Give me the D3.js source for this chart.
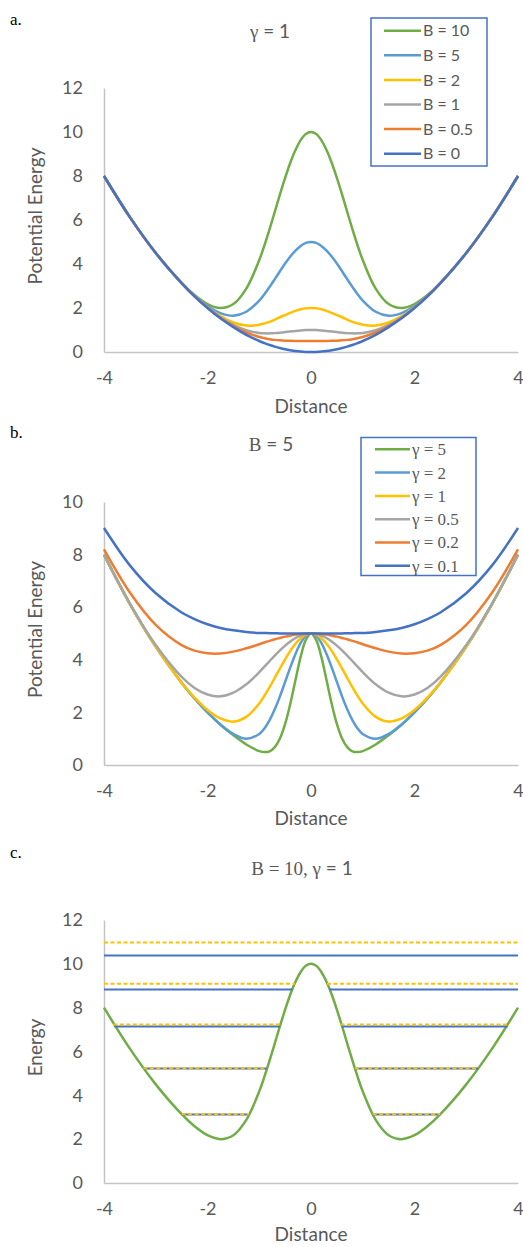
<!DOCTYPE html>
<html>
<head>
<meta charset="utf-8">
<script src="https://cdn.jsdelivr.net/npm/d3@7"></script>
<style>
  body { margin: 0; background: #fff; }
  svg { display: block; }
</style>
</head>
<body>
<svg id="chart" width="523" height="1247"></svg>
<script>
// x positions (distance) shared by every curve
var distance = [-4, -3.5, -3, -2.5, -2.25, -2, -1.75, -1.5, -1.25, -1, -0.9, -0.8, -0.7, -0.6, -0.5, -0.4, -0.3, -0.2, -0.1, 0,
  0.1, 0.2, 0.3, 0.4, 0.5, 0.6, 0.7, 0.8, 0.9, 1, 1.25, 1.5, 1.75, 2, 2.25, 2.5, 3, 3.5, 4];

// panel a: gamma = 1
var seriesA = ["B = 10", "B = 5", "B = 2", "B = 1", "B = 0.5", "B = 0"];
var b10 = [8.00, 6.13, 4.50, 3.14, 2.59, 2.18, 2.00, 2.18, 2.88, 4.18, 4.85, 5.59, 6.37, 7.16, 7.91, 8.60, 9.18, 9.63, 9.91, 10,
  9.91, 9.63, 9.18, 8.60, 7.91, 7.16, 6.37, 5.59, 4.85, 4.18, 2.88, 2.18, 2.00, 2.18, 2.59, 3.14, 4.50, 6.13, 8.00];
var b5 = [8.00, 6.13, 4.50, 3.13, 2.56, 2.09, 1.77, 1.65, 1.83, 2.34, 2.63, 2.96, 3.31, 3.67, 4.02, 4.34, 4.61, 4.82, 4.96, 5,
  4.96, 4.82, 4.61, 4.34, 4.02, 3.67, 3.31, 2.96, 2.63, 2.34, 1.83, 1.65, 1.77, 2.09, 2.56, 3.13, 4.50, 6.13, 8.00];
var b2 = [8.00, 6.13, 4.50, 3.13, 2.54, 2.04, 1.63, 1.34, 1.20, 1.24, 1.30, 1.37, 1.47, 1.58, 1.68, 1.78, 1.87, 1.94, 1.99, 2,
  1.99, 1.94, 1.87, 1.78, 1.68, 1.58, 1.47, 1.37, 1.30, 1.24, 1.20, 1.34, 1.63, 2.04, 2.54, 3.13, 4.50, 6.13, 8.00];
var b1 = [8.00, 6.13, 4.50, 3.13, 2.54, 2.02, 1.58, 1.23, 0.991, 0.868, 0.850, 0.847, 0.858, 0.878, 0.904, 0.932, 0.959, 0.981, 0.995, 1,
  0.995, 0.981, 0.959, 0.932, 0.904, 0.878, 0.858, 0.847, 0.850, 0.868, 0.991, 1.23, 1.58, 2.02, 2.54, 3.13, 4.50, 6.13, 8.00];
var b05 = [8.00, 6.13, 4.50, 3.13, 2.53, 2.01, 1.55, 1.18, 0.886, 0.684, 0.627, 0.584, 0.551, 0.529, 0.514, 0.506, 0.502, 0.500, 0.500, 0.5,
  0.500, 0.500, 0.502, 0.506, 0.514, 0.529, 0.551, 0.584, 0.627, 0.684, 0.886, 1.18, 1.55, 2.01, 2.53, 3.13, 4.50, 6.13, 8.00];
var b0 = [8.00, 6.13, 4.50, 3.13, 2.53, 2.00, 1.53, 1.13, 0.78, 0.5, 0.405, 0.32, 0.245, 0.18, 0.125, 0.08, 0.045, 0.02, 0.005, 0,
  0.005, 0.02, 0.045, 0.08, 0.125, 0.18, 0.245, 0.32, 0.405, 0.5, 0.78, 1.13, 1.53, 2.00, 2.53, 3.13, 4.50, 6.13, 8.00];

// panel b: B = 5
var seriesB = ["\u03b3 = 5", "\u03b3 = 2", "\u03b3 = 1", "\u03b3 = 0.5", "\u03b3 = 0.2", "\u03b3 = 0.1"];
var g5 = [8.00, 6.13, 4.50, 3.13, 2.53, 2.00, 1.53, 1.13, 0.78, 0.53, 0.49, 0.52, 0.68, 1.01, 1.56, 2.33, 3.23, 4.11, 4.76, 5,
  4.76, 4.11, 3.23, 2.33, 1.56, 1.01, 0.68, 0.52, 0.49, 0.53, 0.78, 1.13, 1.53, 2.00, 2.53, 3.13, 4.50, 6.13, 8.00];
var g2 = [8.00, 6.13, 4.50, 3.13, 2.53, 2.00, 1.54, 1.18, 1.00, 1.18, 1.39, 1.71, 2.12, 2.61, 3.16, 3.71, 4.22, 4.64, 4.91, 5,
  4.91, 4.64, 4.22, 3.71, 3.16, 2.61, 2.12, 1.71, 1.39, 1.18, 1.00, 1.18, 1.54, 2.00, 2.53, 3.13, 4.50, 6.13, 8.00];
var g1 = [8.00, 6.13, 4.50, 3.13, 2.56, 2.09, 1.77, 1.65, 1.83, 2.34, 2.63, 2.96, 3.31, 3.67, 4.02, 4.34, 4.61, 4.82, 4.96, 5,
  4.96, 4.82, 4.61, 4.34, 4.02, 3.67, 3.31, 2.96, 2.63, 2.34, 1.83, 1.65, 1.77, 2.09, 2.56, 3.13, 4.50, 6.13, 8.00];
var g05 = [8.00, 6.14, 4.56, 3.35, 2.93, 2.68, 2.61, 2.75, 3.07, 3.53, 3.74, 3.95, 4.16, 4.36, 4.54, 4.70, 4.83, 4.92, 4.98, 5,
  4.98, 4.92, 4.83, 4.70, 4.54, 4.36, 4.16, 3.95, 3.74, 3.53, 3.07, 2.75, 2.61, 2.68, 2.93, 3.35, 4.56, 6.14, 8.00];
var g02 = [8.20, 6.56, 5.33, 4.56, 4.35, 4.25, 4.24, 4.31, 4.44, 4.59, 4.66, 4.72, 4.78, 4.83, 4.88, 4.92, 4.96, 4.98, 5.00, 5,
  5.00, 4.98, 4.96, 4.92, 4.88, 4.83, 4.78, 4.72, 4.66, 4.59, 4.44, 4.31, 4.24, 4.25, 4.35, 4.56, 5.33, 6.56, 8.20];
var g01 = [9.01, 7.59, 6.53, 5.80, 5.55, 5.35, 5.21, 5.12, 5.06, 5.02, 5.02, 5.01, 5.01, 5.00, 5.00, 5.00, 5.00, 5.00, 5.00, 5,
  5.00, 5.00, 5.00, 5.00, 5.00, 5.00, 5.01, 5.01, 5.02, 5.02, 5.06, 5.12, 5.21, 5.35, 5.55, 5.80, 6.53, 7.59, 9.01];

// panel c: B = 10, gamma = 1, with energy levels
var potentialC = b10;
var levelBlue = [3.13, 5.23, 7.14, 8.83, 10.38];
var levelBlueSpans = [[[-2.50, -1.19], [1.19, 2.50]], [[-3.23, -0.85], [0.85, 3.23]], [[-3.80, -0.60], [0.60, 3.80]],
  [[-4, -0.36], [0.36, 4]], [[-4, 4]]];
var levelGold = [3.14, 5.24, 7.23, 9.09, 10.97];
var levelGoldSpans = [[[-2.50, -1.19], [1.19, 2.50]], [[-3.24, -0.85], [0.85, 3.24]], [[-3.82, -0.57], [0.57, 3.82]],
  [[-4, -0.31], [0.31, 4]], [[-4, 4]]];

var xTicks = [-4, -2, 0, 2, 4];

var palette = ["#70AD47", "#5B9BD5", "#FFC000", "#A5A5A5", "#ED7D31", "#4472C4"];
var sans = "Lato, 'Open Sans', sans-serif";
var serif = "'Liberation Serif', 'DejaVu Serif', serif";
var textColor = "#595959";
var axisColor = "#c4c4c4";

var svg = d3.select("#chart");

var x = d3.scaleLinear().domain([-4, 4]).range([104, 518]);

var line = function(y) {
  return d3.line()
    .x(function(d) { return x(d[0]); })
    .y(function(d) { return y(d[1]); })
    .curve(d3.curveCatmullRom.alpha(0.5));
};

var drawFrame = function(cfg) {
  var y = d3.scaleLinear().domain([0, cfg.yMax]).range([cfg.bottom, cfg.top]);
  var g = svg.append("g");

  // y axis
  var yAxis = d3.axisLeft(y)
    .tickValues(d3.range(0, cfg.yMax + 1, 2))
    .tickSize(0).tickPadding(21)
    .tickFormat(function(d) { return String(d); });
  var yG = g.append("g").attr("transform", "translate(" + x(-4) + ",0)").call(yAxis);
  yG.select(".domain").attr("stroke", axisColor).attr("stroke-width", 1.5);
  yG.selectAll("text").style("font-family", sans).style("font-size", "18px").attr("fill", textColor);

  // x axis
  var xAxis = d3.axisBottom(x)
    .tickValues(xTicks)
    .tickSize(0).tickPadding(19)
    .tickFormat(function(d) { return String(d); });
  var xG = g.append("g").attr("transform", "translate(0," + cfg.bottom + ")").call(xAxis);
  xG.select(".domain").attr("stroke", axisColor).attr("stroke-width", 1.5);
  xG.selectAll("text").style("font-family", sans).style("font-size", "18px").attr("fill", textColor);

  // axis titles
  g.append("text")
    .text("Distance")
    .attr("x", x(0))
    .attr("y", cfg.bottom + cfg.xTitleGap)
    .attr("text-anchor", "middle")
    .style("font-family", sans).style("font-size", "19px").attr("fill", textColor);

  g.append("text")
    .text(cfg.yTitle)
    .attr("transform", "translate(35," + ((cfg.top + cfg.bottom) / 2 - 4) + ") rotate(-90)")
    .attr("dy", "0.35em")
    .attr("text-anchor", "middle")
    .style("font-family", sans).style("font-size", "19px").attr("fill", textColor);

  // panel letter
  g.append("text")
    .text(cfg.letter)
    .attr("x", 10)
    .attr("y", cfg.letterY)
    .style("font-family", serif).style("font-size", "17px").attr("fill", "#000");

  // title, mixed serif and sans like the original
  var t = g.append("text")
    .attr("x", cfg.titleX)
    .attr("y", cfg.titleY)
    .attr("text-anchor", "middle")
    .attr("fill", textColor)
    .style("font-size", "19px");
  cfg.title.forEach(function(part) {
    t.append("tspan").text(part[0]).style("font-family", part[1] === "serif" ? serif : sans);
  });

  return y;
};

var drawLegend = function(names, box, font, fontSize) {
  var lg = svg.append("g");
  lg.append("rect")
    .attr("x", box.x).attr("y", box.y)
    .attr("width", box.w).attr("height", box.h)
    .attr("fill", "#fff")
    .attr("stroke", "#4472C4").attr("stroke-width", 1.5);
  names.forEach(function(name, i) {
    var cy = box.first + i * box.step;
    lg.append("line")
      .attr("x1", box.lx1).attr("x2", box.lx2)
      .attr("y1", cy).attr("y2", cy)
      .attr("stroke", palette[i]).attr("stroke-width", 2.5);
    lg.append("text")
      .text(name)
      .attr("x", box.lx2 + 2)
      .attr("y", cy)
      .attr("dy", "0.35em")
      .attr("fill", textColor)
      .style("font-family", font).style("font-size", fontSize);
  });
};

// ---- panel a ----
var yA = drawFrame({
  top: 88, bottom: 352, yMax: 12, yTitle: "Potential Energy", xTitleGap: 61,
  letter: "a.", letterY: 25,
  title: [["\u03b3", "serif"], [" = 1", "sans"]], titleX: 270, titleY: 38
});
[b10, b5, b2, b1, b05, b0].forEach(function(vals, i) {
  svg.append("path")
    .datum(distance.map(function(d, j) { return [d, vals[j]]; }))
    .attr("d", line(yA))
    .attr("fill", "none")
    .attr("stroke", palette[i])
    .attr("stroke-width", 2.5);
});
drawLegend(seriesA, { x: 371, y: 18, w: 116, h: 148, first: 30.7, step: 24.6, lx1: 384, lx2: 421 }, sans, "16px");

// ---- panel b ----
var yB = drawFrame({
  top: 502, bottom: 765, yMax: 10, yTitle: "Potential Energy", xTitleGap: 60,
  letter: "b.", letterY: 438,
  title: [["B", "serif"], [" = 5", "sans"]], titleX: 271, titleY: 451
});
[g5, g2, g1, g05, g02, g01].forEach(function(vals, i) {
  svg.append("path")
    .datum(distance.map(function(d, j) { return [d, vals[j]]; }))
    .attr("d", line(yB))
    .attr("fill", "none")
    .attr("stroke", palette[i])
    .attr("stroke-width", 2.5);
});
drawLegend(seriesB, { x: 361, y: 437.5, w: 115, h: 138, first: 449.3, step: 23.3, lx1: 375, lx2: 410 }, serif, "17px");

// ---- panel c ----
var yC = drawFrame({
  top: 920, bottom: 1183, yMax: 12, yTitle: "Energy", xTitleGap: 58,
  letter: "c.", letterY: 858,
  title: [["B = 10, \u03b3", "serif"], [" = 1", "sans"]], titleX: 302, titleY: 875
});
svg.append("path")
  .datum(distance.map(function(d, j) { return [d, potentialC[j]]; }))
  .attr("d", line(yC))
  .attr("fill", "none")
  .attr("stroke", palette[0])
  .attr("stroke-width", 2.5);

levelBlue.forEach(function(e, i) {
  levelBlueSpans[i].forEach(function(s) {
    svg.append("line")
      .attr("x1", x(s[0])).attr("x2", x(s[1]))
      .attr("y1", yC(e)).attr("y2", yC(e))
      .attr("stroke", "#4472C4").attr("stroke-width", 2);
  });
});
levelGold.forEach(function(e, i) {
  levelGoldSpans[i].forEach(function(s) {
    svg.append("line")
      .attr("x1", x(s[0])).attr("x2", x(s[1]))
      .attr("y1", yC(e)).attr("y2", yC(e))
      .attr("stroke", "#FFC000").attr("stroke-width", 2)
      .attr("stroke-dasharray", "4,2.5");
  });
});
</script>
</body>
</html>
